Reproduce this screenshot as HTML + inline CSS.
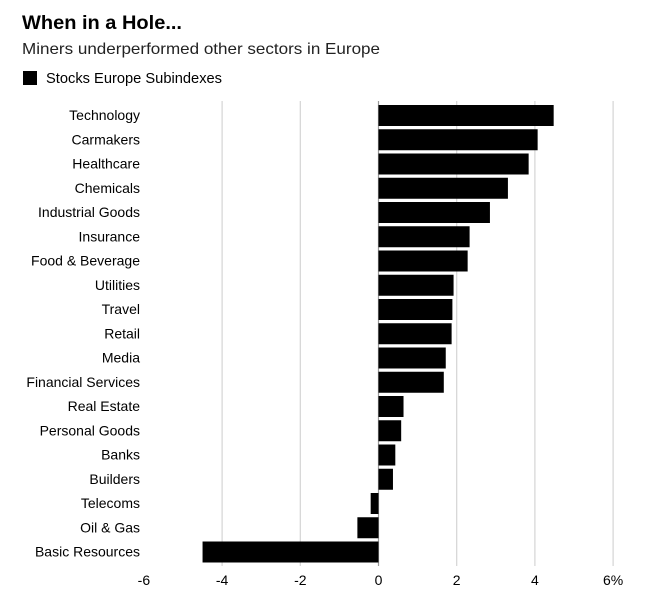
<!DOCTYPE html>
<html><head><meta charset="utf-8"><style>
body{margin:0;background:#fff;}
svg{display:block;font-family:"Liberation Sans",Arial,sans-serif;}
</style></head><body>
<svg id="chart" width="646" height="592" viewBox="0 0 646 592">
<text x="22" y="29" font-size="19" font-weight="bold" fill="#000" textLength="160" lengthAdjust="spacingAndGlyphs">When in a Hole...</text>
<text x="22" y="54" font-size="16" fill="#222" textLength="358" lengthAdjust="spacingAndGlyphs">Miners underperformed other sectors in Europe</text>
<rect x="23" y="71" width="14" height="14" fill="#000"/>
<text x="46" y="83" font-size="14.5" fill="#000" textLength="176" lengthAdjust="spacingAndGlyphs">Stocks Europe Subindexes</text>
<g id="grid"></g><g id="bars"></g><g id="labels"></g><g id="ticks"></g>
</svg>
<script>
const categories=["Technology","Carmakers","Healthcare","Chemicals","Industrial Goods","Insurance","Food & Beverage","Utilities","Travel","Retail","Media","Financial Services","Real Estate","Personal Goods","Banks","Builders","Telecoms","Oil & Gas","Basic Resources"];
const values=[4.48,4.07,3.84,3.31,2.85,2.33,2.28,1.92,1.89,1.87,1.72,1.67,0.64,0.58,0.43,0.37,-0.2,-0.54,-4.5];
const tickValues=[-6,-4,-2,0,2,4,6];
const tickLabels=["-6","-4","-2","0","2","4","6%"];
const NS="http://www.w3.org/2000/svg";
const x=v=>378.5+v*39.1;
const yTop=i=>105+i*24.25;
const BH=21;
function mk(t,a,p){const e=document.createElementNS(NS,t);for(const k in a)e.setAttribute(k,a[k]);p.appendChild(e);return e;}
const grid=document.getElementById('grid'),bars=document.getElementById('bars'),labels=document.getElementById('labels'),ticks=document.getElementById('ticks');
tickValues.forEach((v,i)=>{
  if(v!==-6&&v!==0){const l=mk('line',{x1:x(v),x2:x(v),y1:101,y2:566,stroke:'#d4d4d4','stroke-width':1.2},grid);
  
  }
  const t=mk('text',{x:x(v),y:585,'font-size':14,'text-anchor':'middle',fill:'#000'},ticks);
  t.textContent=tickLabels[i];
  
  
});
values.forEach((v,i)=>{
  const r=mk('rect',{x:Math.min(x(0),x(v)),y:yTop(i),width:Math.abs(x(v)-x(0)),height:BH,fill:'#000'},bars);
  
  
  const t=mk('text',{x:140,y:yTop(i)+15,'font-size':14,'text-anchor':'end',fill:'#000'},labels);
  t.textContent=categories[i];
  
  
});
const z=mk('line',{x1:x(0),x2:x(0),y1:101,y2:566,stroke:'#999','stroke-width':1.2},grid);


</script>
</body></html>
